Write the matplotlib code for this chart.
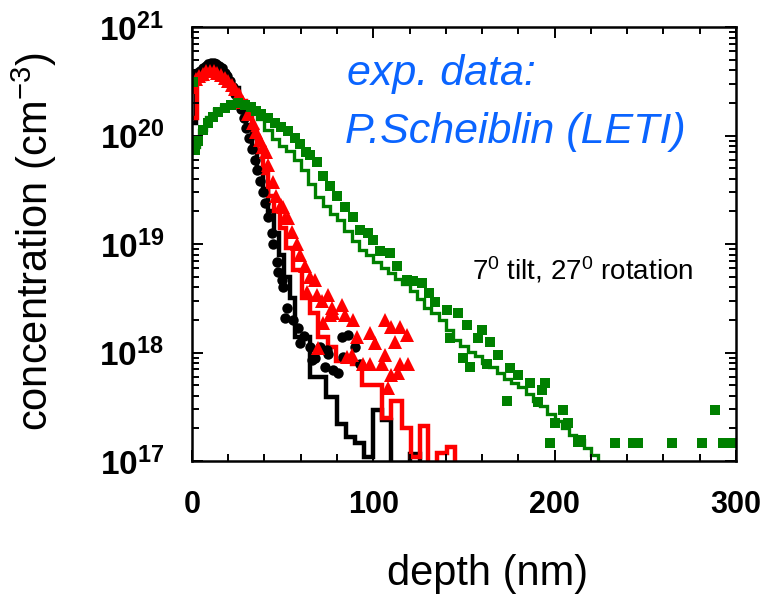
import numpy as np
import matplotlib
matplotlib.use('Agg')
import matplotlib.pyplot as plt
from matplotlib.ticker import LogLocator, MultipleLocator, NullFormatter

plt.rcParams['font.family'] = ['Liberation Sans', 'DejaVu Sans']
plt.rcParams['mathtext.fontset'] = 'custom'
plt.rcParams['mathtext.rm'] = 'Liberation Sans'
plt.rcParams['mathtext.it'] = 'Liberation Sans:italic'
plt.rcParams['mathtext.bf'] = 'Liberation Sans:bold'

# simulated profiles (histogram bins: edges in nm, concentration in cm^-3)
black_edges = [0, 2, 6, 9, 14, 18, 22, 26, 30, 33, 36, 39, 42, 45, 48, 51, 54, 57,
               65, 74, 80, 85, 90, 95, 100, 105, 110, 120, 126, 130]
black_sim = [1.3e20, 3.8e20, 4.3e20, 4.8e20, 4.2e20, 3.2e20, 2.75e20, 2.0e20,
             1.26e20, 7.9e19, 5.0e19, 3.2e19, 2.0e19, 1.26e19, 7.9e18, 5.0e18,
             3.2e18, 1.4e18, 5.9e17, 3.9e17, 2.2e17, 1.66e17, 1.48e17, 1.1e17,
             2.95e17, 2.4e17, 5e16, 1.17e17, 5e16]

red_edges = [0, 3, 7, 10, 14, 18, 22, 26, 30, 33, 36, 39, 42, 45, 48.5, 52, 55.8,
             60.6, 65, 69.5, 75, 79.5, 88, 94, 105, 110, 116, 121, 126, 130, 135,
             140.6, 145, 150]
red_sim = [1.45e20, 3.3e20, 3.8e20, 4.3e20, 3.7e20, 2.95e20, 2.5e20, 2.1e20,
           1.66e20, 1.12e20, 7.1e19, 4.5e19, 2.8e19, 2.0e19, 1.41e19, 9.3e18,
           5.75e18, 3.2e18, 2.3e18, 1.38e18, 1.12e18, 8.3e17, 7.9e17, 5.0e17,
           2.5e17, 3.6e17, 2.0e17, 1.1e17, 2.1e17, 5e16, 1.2e17, 1.35e17, 5e16]

green_bin = 4  # nm
green_sim = [7.9e19, 1.12e20, 1.48e20, 1.74e20, 1.86e20, 2.0e20, 2.04e20, 1.86e20,
             1.62e20, 1.41e20, 1.12e20, 9.3e19, 8.1e19, 7.2e19, 5.9e19, 4.8e19,
             3.6e19, 2.7e19, 2.24e19, 1.9e19, 1.66e19, 1.32e19, 1.07e19, 8.9e18,
             7.9e18, 6.9e18, 6.0e18, 5.4e18, 4.8e18, 4.3e18, 3.7e18, 3.1e18,
             2.6e18, 2.3e18, 2.0e18, 1.62e18, 1.32e18, 1.15e18, 1.02e18, 9.3e17,
             8.1e17, 7.4e17, 6.5e17, 5.75e17, 5.25e17, 4.8e17, 4.2e17, 3.6e17,
             3.2e17, 2.7e17, 2.34e17, 2.0e17, 1.74e17, 1.55e17, 1.32e17, 1.15e17,
             9.5e16]
green_edges = np.arange(len(green_sim) + 1) * green_bin

# experimental SIMS data
black_exp_x = [0, 1.5, 3, 4.5, 6, 7.5, 9, 10.5, 12, 13.5, 15, 16.5, 18, 19.5, 21,
               22.5, 24, 25.5, 27, 28.5, 30, 31.5, 33, 34.5, 36, 37.5, 39, 40.3,
               41.9, 44, 44.7, 46.9, 47.4, 49.6, 50.2, 52.4, 51.3, 55.7, 58.5,
               59.6, 65, 66, 70.6, 75, 73.4, 77.8, 74.5, 83.3, 86, 92.7, 90, 82.7,
               80.5, 62, 68]
black_exp_y = [3.16e20, 3.55e20, 3.8e20, 3.98e20, 4.17e20, 4.37e20, 4.57e20, 4.68e20,
               4.68e20, 4.57e20, 4.37e20, 4.17e20, 3.8e20, 3.55e20, 3.16e20, 2.82e20,
               2.4e20, 2.09e20, 1.74e20, 1.45e20, 1.17e20, 9.5e19, 7.6e19, 6.0e19,
               4.8e19, 3.8e19, 3.0e19, 2.4e19, 1.78e19, 1.26e19, 1.0e19, 6.8e18,
               5.5e18, 4.7e18, 4.0e18, 2.6e18, 2.1e18, 2.0e18, 1.7e18, 1.23e18,
               1.12e18, 8.5e17, 1.12e18, 9.8e17, 7.4e17, 6.9e17, 1.05e18, 9.1e17,
               1.45e18, 7.9e17, 1.12e18, 1.38e18, 6.5e17, 1.41e18, 8.9e17]

red_exp_x = [0, 2, 4, 6, 8, 10, 12, 14, 16, 18, 20, 22, 24, 26, 28, 31, 33.6, 35.3,
             37.5, 39, 40.8, 42, 44.7, 46.3, 49, 51.3, 50.2, 53, 55, 57.9, 59.6,
             62.3, 65, 67.8, 63.4, 69, 75, 71.7, 77.2, 82.7, 76, 72.3, 88.8, 91,
             69.5, 85.5, 77.8, 84.4, 98, 106.5, 110, 114.7, 118.6, 112, 101, 106.5,
             98, 104.8, 114.7, 119, 110, 113.6, 108, 88, 94.3]
red_exp_y = [2.82e20, 3.3e20, 3.55e20, 3.7e20, 3.9e20, 3.98e20, 3.98e20, 3.8e20,
             3.63e20, 3.39e20, 3.16e20, 2.95e20, 2.69e20, 2.4e20, 2.04e20, 1.58e20,
             1.32e20, 1.07e20, 9.1e19, 7.9e19, 7.1e19, 5.4e19, 3.7e19, 2.8e19,
             2.3e19, 1.74e19, 2.2e19, 1.74e19, 1.29e19, 1.0e19, 7.9e18, 6.3e18,
             5.0e18, 4.7e18, 3.6e18, 3.4e18, 3.4e18, 3.0e18, 2.6e18, 2.75e18,
             2.24e18, 1.86e18, 2.0e18, 1.38e18, 1.1e18, 9.1e17, 2.3e18, 2.24e18,
             1.51e18, 2.0e18, 1.74e18, 1.74e18, 1.45e18, 1.26e18, 1.23e18, 9.5e17,
             7.9e17, 7.9e17, 7.9e17, 7.9e17, 6.2e17, 6.5e17, 4.7e17, 9.5e17, 7.9e17]

green_exp_x = [0.5, 1.5, 3.3, 6, 8.8, 11.6, 14.3, 18, 21.5, 25.4, 29, 32.5, 35.3, 38,
               42, 45.8, 49, 53, 56.8, 59.6, 63, 65, 69, 72.3, 76, 80, 84.4, 88.8,
               92.7, 97, 100, 103.7, 109, 113, 118.6, 122, 126.8, 131, 134, 140.6,
               146.7, 151.7, 160, 142.3, 157.7, 164.4, 168.8, 149.5, 153.3, 162.7,
               175.4, 179.8, 186.4, 194.7, 193, 173.7, 190.8, 204.6, 200, 207.4,
               212.9, 197.5, 214.5, 233.3, 243.2, 246, 264.8, 281.3, 288.5, 293, 297.5]
green_exp_y = [3.1e20, 7.4e19, 8.9e19, 1.12e20, 1.32e20, 1.48e20, 1.66e20, 1.78e20,
               1.9e20, 2.0e20, 1.9e20, 1.82e20, 1.7e20, 1.58e20, 1.45e20, 1.32e20,
               1.2e20, 1.1e20, 9.5e19, 8.3e19, 7.1e19, 6.6e19, 5.75e19, 4.2e19,
               3.4e19, 2.8e19, 2.2e19, 1.78e19, 1.35e19, 1.26e19, 1.1e19, 8.7e18,
               8.3e18, 6.3e18, 4.7e18, 4.6e18, 4.4e18, 3.55e18, 2.9e18, 2.45e18,
               2.3e18, 1.78e18, 1.62e18, 1.35e18, 1.35e18, 1.26e18, 9.5e17, 8.9e17,
               7.4e17, 7.9e17, 7.2e17, 6.2e17, 5.25e17, 5.25e17, 4.5e17, 3.6e17,
               3.5e17, 2.95e17, 2.24e17, 2.24e17, 1.51e17, 1.48e17, 1.55e17, 1.48e17,
               1.48e17, 1.48e17, 1.48e17, 1.48e17, 2.95e17, 1.48e17, 1.48e17]

yticks = [1e17, 1e18, 1e19, 1e20, 1e21]
ytick_labels = [r'$\mathbf{10^{17}}$', r'$\mathbf{10^{18}}$', r'$\mathbf{10^{19}}$',
                r'$\mathbf{10^{20}}$', r'$\mathbf{10^{21}}$']
xticks = [0, 100, 200, 300]

fig = plt.figure(figsize=(7.82, 6.02), dpi=100)
ax = fig.add_axes([0.2455, 0.234, 0.6955, 0.721])

# simulation lines
ax.stairs(black_sim, black_edges, baseline=None, color='black', lw=3.2)
ax.stairs(red_sim, red_edges, baseline=None, color='#ff0000', lw=3.2)
ax.stairs(green_sim, green_edges, baseline=None, color='#008000', lw=2.4)

# experimental points
ax.plot(black_exp_x, black_exp_y, 'o', color='black', ms=7.5, mew=0)
ax.plot(red_exp_x, red_exp_y, '^', color='#ff0000', ms=9.5, mew=0)
ax.plot(green_exp_x, green_exp_y, 's', color='#008000', ms=6.5, mew=0)

ax.set_yscale('log')
ax.set_xlim(0, 300)
ax.set_ylim(1e17, 1e21)
ax.set_yticks(yticks)
ax.set_yticklabels(ytick_labels)
ax.yaxis.set_minor_locator(LogLocator(base=10, subs=np.arange(2, 10)))
ax.yaxis.set_minor_formatter(NullFormatter())
ax.set_xticks(xticks)
ax.set_xticklabels([str(t) for t in xticks], fontweight='bold')
ax.xaxis.set_minor_locator(MultipleLocator(20))

ax.tick_params(which='both', direction='in', top=True, right=True, width=1.4)
ax.tick_params(which='major', length=8)
ax.tick_params(which='minor', length=5)
ax.tick_params(axis='y', labelsize=24, pad=20)
ax.tick_params(axis='x', labelsize=22, pad=21)
for sp in ax.spines.values():
    sp.set_linewidth(1.8)

ax.set_xlabel('depth (nm)', fontsize=30)
ax.xaxis.set_label_coords(0.544, -0.215)
ax.set_ylabel(r'concentration (cm$^{\mathregular{-3}}$)', fontsize=30)
ax.yaxis.set_label_coords(-0.245, 0.505)

fig.text(347 / 782, 1 - 85 / 602, 'exp. data:', color='#0a64ff', fontsize=31,
         style='italic', va='baseline')
fig.text(345 / 782, 1 - 143 / 602, 'P.Scheiblin (LETI)', color='#0a64ff', fontsize=31,
         style='italic', va='baseline')
fig.text(472 / 782, 1 - 280 / 602,
         r'7$^{\mathregular{0}}$ tilt, 27$^{\mathregular{0}}$ rotation',
         fontsize=20, va='baseline')

fig.savefig('out.png', dpi=100)
